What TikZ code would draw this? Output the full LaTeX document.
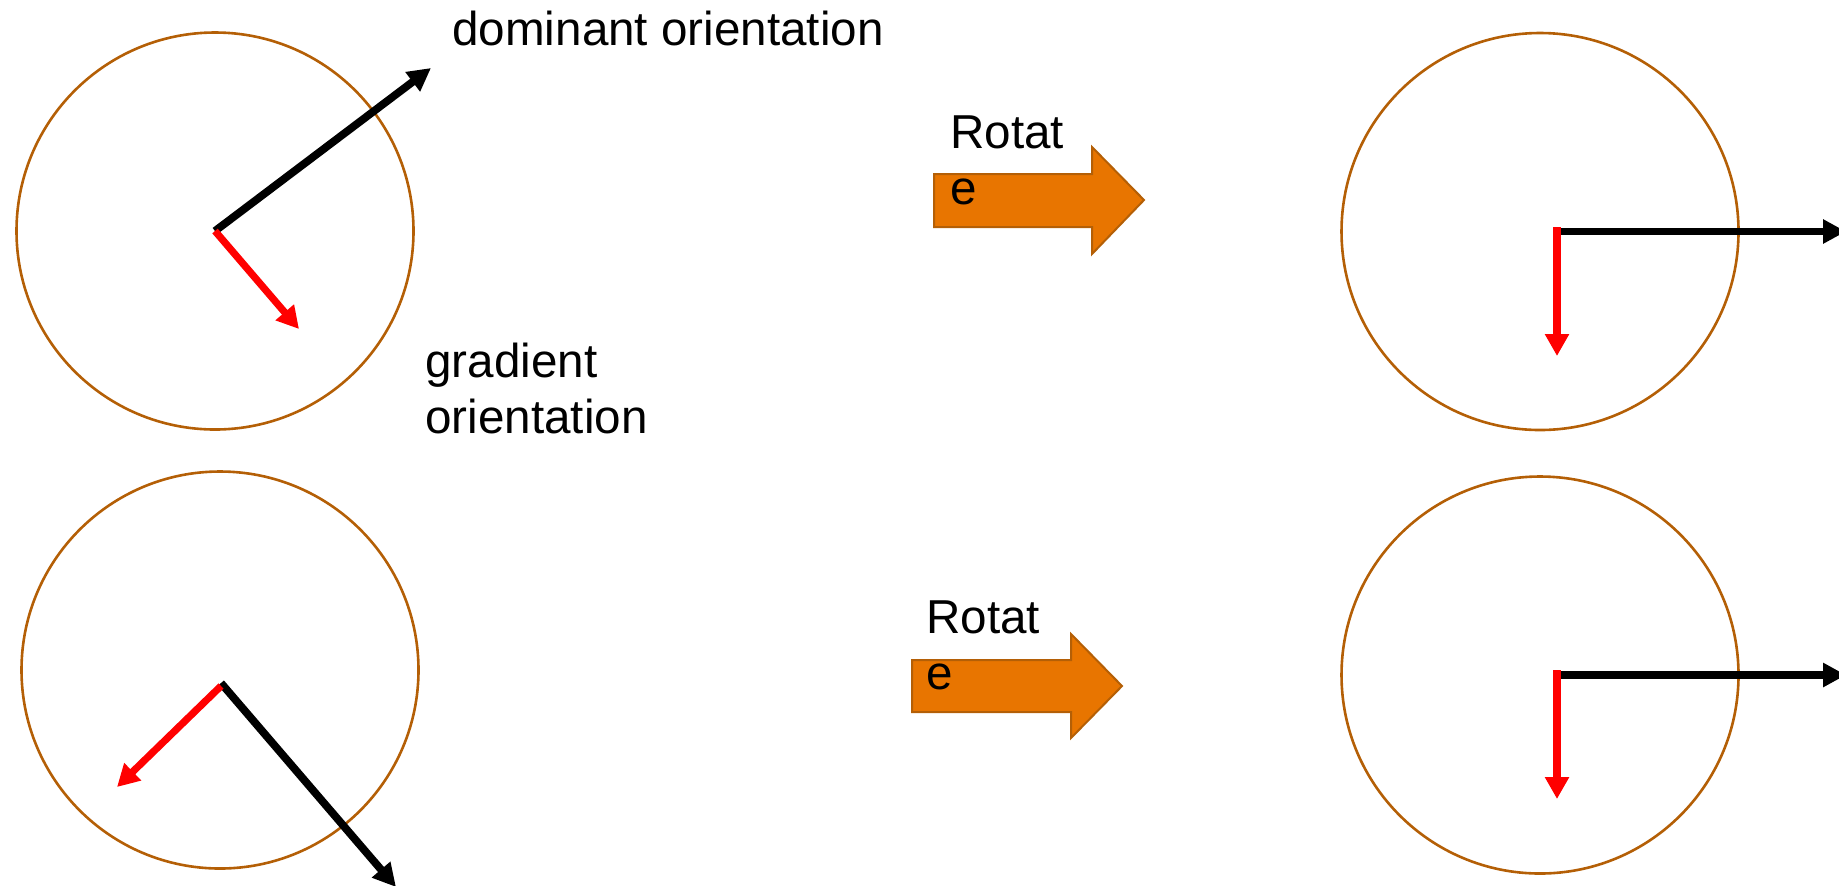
\documentclass[tikz,border=0pt]{standalone}
\usepackage{fontspec}
\setmainfont{Liberation Sans}
\usetikzlibrary{arrows.meta}
\definecolor{ringbrown}{HTML}{B45F06}
\definecolor{blockorange}{HTML}{E87500}
\begin{document}
\begin{tikzpicture}[x=0.5pt,y=-0.5pt,
  ring/.style={circle,draw=ringbrown,line width=1.3pt,minimum size=198.5pt,inner sep=0pt},
  domvec/.style={black,line width=3.9pt,-{Triangle[length=11.5pt,width=11.5pt]}},
  gradvec/.style={red,line width=3.6pt,-{Triangle[length=11pt,width=11.5pt]}},
  rotblock/.style={fill=blockorange,draw=ringbrown,line width=1pt,line join=miter},
  lbl/.style={inner sep=0pt,font=\fontsize{23.8}{28}\selectfont,text=black}]
\useasboundingbox (0,0) rectangle (1839,885);
\clip (0,0) rectangle (1839,885);
% circles
\node[ring] (c1) at (215,231) {};
\node[ring] (c2) at (220,670) {};
\node[ring] (c3) at (1540,231.5) {};
\node[ring] (c4) at (1540,675) {};
% rotate block arrows
\draw[rotblock] (934,174) -- (1092,174) -- (1092,147) -- (1144,200) -- (1092,254) -- (1092,227) -- (934,227) -- cycle;
\draw[rotblock] (912,660) -- (1071,660) -- (1071,634) -- (1122,686) -- (1071,738) -- (1071,712) -- (912,712) -- cycle;
% vector end points
\coordinate (o1) at (215,231);
\coordinate (d1) at (431,68);
\coordinate (g1) at (299,329);
\coordinate (o2) at (221,683);
\coordinate (o2r) at (221,686);
\coordinate (d2) at (396,887);
\coordinate (g2) at (117,787);
\coordinate (o3) at (1557,231.5);
\coordinate (o3r) at (1557,227);
\coordinate (d3) at (1846,231.5);
\coordinate (g3) at (1557,356);
\coordinate (o4) at (1557,675);
\coordinate (o4r) at (1557,670);
\coordinate (d4) at (1846,675);
\coordinate (g4) at (1557,799);
% vectors
\draw[domvec] (o1) -- (d1);
\draw[gradvec] (o1) -- (g1);
\draw[domvec] (o2) -- (d2);
\draw[gradvec] (o2r) -- (g2);
\draw[domvec] (o3) -- (d3);
\draw[gradvec] (o3r) -- (g3);
\draw[domvec] (o4) -- (d4);
\draw[gradvec] (o4r) -- (g4);
% labels (base anchor = baseline of the last line)
\node[lbl,anchor=base west] (dom) at (452,45) {dominant orientation};
\node[lbl,anchor=base west,align=left] (grad) at (425,433) {gradient\\orientation};
\node[lbl,anchor=base west,align=left] (rot1) at (950,204) {Rotat\\e};
\node[lbl,anchor=base west,align=left] (rot2) at (926,689) {Rotat\\e};
\end{tikzpicture}
\end{document}
